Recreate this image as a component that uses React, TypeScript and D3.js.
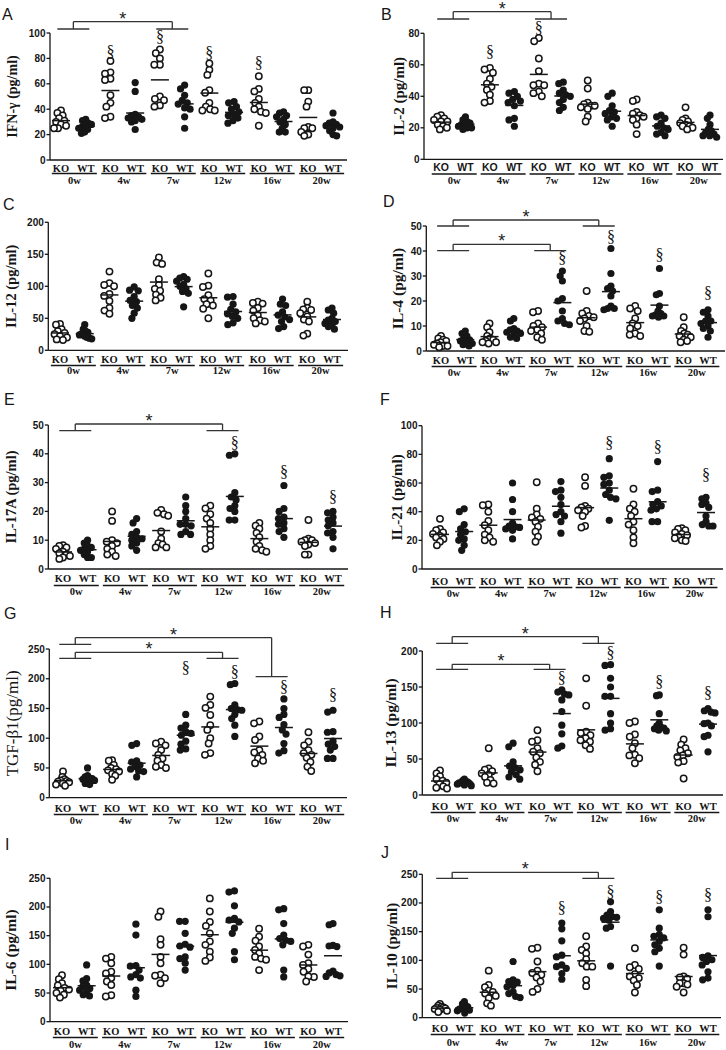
import React from 'react';
import * as d3 from 'd3';

const weeks = ['0w', '4w', '7w', '12w', '16w', '20w'];
const groups = ['KO', 'WT'];

const ifngKO = [[39,37,35,33,31,30,28,27,25,25],[78,69,68,64,63,51,45,42,34,33],[87,84,80,75,75,50,48,47,43,42],[76,71,67,55,53,45,42,40,39,39],[66,56,54,48,45,42,40,38,37,27],[55,55,46,42,26,25,22,20,19,25]];
const ifngWT = [[32,31,29,28,27,26,25,24,22,21],[61,54,36,35,34,33,32,31,30,24],[59,56,51,47,45,44,41,40,34,25],[46,45,42,40,38,36,35,33,31,29],[38,37,35,34,32,30,28,25,22,22],[37,30,29,28,27,26,25,23,20,19]];
const il2KO = [[28,27,26,25,24,24,22,21,20,19],[58,57,55,51,48,46,44,41,37,36],[77,75,64,56,48,47,47,43,42,40],[50,45,36,35,34,34,33,32,27,24],[38,37,30,29,28,27,26,25,22,16],[33,26,25,24,23,22,21,21,20,19]];
const il2WT = [[27,25,24,23,22,22,21,20,20,19],[43,42,40,38,37,36,34,26,25,21],[49,48,44,42,41,40,38,36,33,31],[42,40,34,31,30,29,27,26,25,21],[28,27,26,23,21,20,19,17,16,15],[28,26,22,19,18,17,16,15,14,15]];
const il12KO = [[41,40,33,30,27,25,22,20,17,16],[123,105,102,100,88,85,77,66,62,57],[145,137,135,111,102,96,93,87,82,78],[120,101,99,86,80,78,72,70,65,50],[76,74,73,66,62,55,50,47,45,42],[76,66,64,63,58,53,48,45,26,23]];
const il12WT = [[40,33,30,28,26,24,22,20,19,18],[99,94,93,84,78,76,70,66,58,50],[115,113,111,108,103,100,96,92,89,68],[84,83,72,64,60,57,53,50,43,40],[80,72,70,60,55,52,48,45,37,34],[66,63,58,50,47,45,42,40,37,33]];
const il4KO = [[6,5,4.5,4,3.5,3,2.5,2,2,1.5],[11,9.5,7.5,6,5,4.5,4,3.5,3.5,3],[16,15.5,11,10,9.5,8.5,8,7,5.5,4.5],[24,16,15,14,13.5,13,12,10,8,7.7],[18,17,16,13,11,10,9,7,6.5,6],[13.5,9.5,8,7,6.5,6,5.5,4.5,4,3.5]];
const il4WT = [[8,7,6,5,4.5,4,3.5,3,2.5,2],[13,12,9,8.5,8,7.5,7,6.5,5.5,5],[32,30,28,21,20,16,13,12,11,10.5],[41,31,26,25,24,22,18,17,17,16.5],[33,23,22.5,18,16,15,14.5,14,14,13.5],[16.5,15.5,14,12,12,11,10,9,8,5.5]];
const il17KO = [[8.3,8,7.5,7,6,5.5,5,4.5,4,3.5],[20,16.7,10,9.5,9,8,7,6,5,4.5],[20.5,19.5,19,18.5,13,10.5,9,8.5,7.5,7.5],[22,21,19,17.5,16,14,12,10,8,7],[16,15,14,12.5,11,9.5,8,7,6.5,6],[17,10.5,10,10,9.5,9,8.5,8,5,5]];
const il17WT = [[10,9,8,7.5,7,6.5,6,5,4,4],[17.5,16,13,12,11,10.5,10,9,8,6.5],[25,22,20,17.5,15.5,15.5,15,13,12,12],[40,39.5,26.5,25,24,22,21,20,17,17],[29,21,20,18,17.5,16,15.5,14,13,11],[20,19.5,18,17,16,15,13,12.5,11,7]];
const il21KO = [[35,28,27,25.5,24.5,23,22,21,19,16.5],[45,44.5,40,33.5,30.5,27,24,22,20,19],[60.5,42,38,36,35,33,29.5,26,22.5,19],[64,58,44,43,42,41,40,37,30,29],[56,45,42,40,37,33,31,27,22,18],[28.5,28,27,25.5,24.5,23.5,22.5,21.5,20,19.5]];
const il21WT = [[42,40,31,28,26,24,21,20,16.5,13],[60,48.5,40,32,29,30,29.5,28,27,21],[61,55,54,50,45,40,38,37,33,25],[77,65,64,60,59,55,52,50,49,34],[75,55,54,47,45,44,42,41,33,33],[50,49,46,45,43,37,33,31,30,30]];
const tgfKO = [[44,35,31,29,28,27,26,24,22,20],[63,62,55,50,48,46,44,40,37,30],[94,91,88,80,72,66,62,55,52,50],[170,156,151,139,122,114,100,91,75,72],[128,125,103,97,80,76,72,66,62,58],[110,94,88,80,75,72,67,60,52,45]];
const tgfWT = [[50,37,35,33,32,31,29,27,24,22],[91,88,62,60,55,52,48,45,44,35],[140,122,117,111,108,105,95,90,82,80],[192,190,156,150,148,147,140,133,122,103],[166,150,140,135,123,114,107,91,79,75],[147,144,111,110,95,90,86,80,66,66]];
const il13KO = [[34,30,26,22,20,17,15,12,10,9],[65,37,35,33,30,28,25,21,17,16],[90,76,74,65,60,58,52,46,42,33],[162,124,88,86,83,79,76,74,69,64],[102,100,84,81,72,65,56,55,51,44],[77,70,65,62,58,55,53,47,45,23]];
const il13WT = [[22,20,19,18,17,17,16,15,14,13],[72,67,46,40,38,35,32,28,25,22],[146,143,140,139,132,116,97,85,68,65],[181,180,162,150,137,137,113,100,92,90],[139,138,113,100,96,94,93,92,90,89],[120,117,115,114,100,99,96,83,81,60]];
const il6KO = [[81,74,67,63,59,56,54,50,47,42],[113,110,102,87,84,76,70,64,46,44],[192,183,144,134,113,102,82,80,76,67],[215,192,174,167,154,140,134,122,112,106],[162,148,141,131,125,119,113,110,108,90],[134,131,117,102,99,92,87,78,79,70]];
const il6WT = [[99,75,71,64,61,58,55,52,47,45],[170,151,98,97,90,82,78,76,55,44],[175,175,154,135,132,130,113,110,102,90],[228,226,202,180,177,174,163,154,122,108],[197,195,171,151,145,142,140,134,90,78],[171,169,133,132,131,88,85,82,80,79]];
const il10KO = [[24,21,19,18,17,16,15,14,12,10],[82,57,53,47,45,42,38,34,25,21],[122,120,98,82,78,75,70,63,50,45],[142,124,118,112,102,95,89,89,66,55],[121,92,88,85,76,72,69,65,57,44],[122,110,72,70,68,60,58,60,54,44]];
const il10WT = [[28,24,21,19,17,16,15,13,12,8],[98,66,63,62,56,54,45,42,37,35],[165,155,134,109,106,92,89,86,77,67],[202,185,179,176,175,173,170,159,156,90],[188,156,145,142,139,133,127,121,115,90],[188,176,108,105,101,98,92,80,69,66]];

const SANS = 'Liberation Sans, Arial, sans-serif';
const SERIF = 'Liberation Serif, Times New Roman, serif';
const INK = '#161616';

type Bracket = { a: string; b: string; top: number; lowA: number; lowB: number };
type Sig = { w: string; g: string; y: number };
type PanelCfg = {
  letter: string; lx: number; ly: number;
  title: string; tx: number; tSize: number; tWeight: string;
  ko: number[][]; wt: number[][];
  max: number; step: number;
  ax: number; y0: number; yTop: number; xEnd: number; c0: number; c1: number;
  koBase: number; ul: number; wk: number; catFont: string;
  brackets: Bracket[]; sig: Sig[];
};

const panels: PanelCfg[] = [
  { letter: 'A', lx: 2, ly: 20, title: 'IFN-γ (pg/ml)', tx: 17, tSize: 14, tWeight: 'bold', ko: ifngKO, wt: ifngWT, max: 100, step: 20,
    ax: 50, y0: 160, yTop: 33, xEnd: 347, c0: 61, c1: 333, koBase: 172, ul: 173.5, wk: 183.5, catFont: SERIF,
    brackets: [{ a: '0w', b: '7w', top: 21.7, lowA: 29, lowB: 29 }],
    sig: [{ w: '4w', g: 'KO', y: 52 }, { w: '7w', g: 'KO', y: 37 }, { w: '12w', g: 'KO', y: 53 }, { w: '16w', g: 'KO', y: 63 }] },
  { letter: 'B', lx: 381, ly: 20, title: 'IL-2 (pg/ml)', tx: 404, tSize: 15, tWeight: 'bold', ko: il2KO, wt: il2WT, max: 80, step: 20,
    ax: 424, y0: 159.3, yTop: 33.3, xEnd: 723, c0: 441, c1: 710, koBase: 171, ul: 174, wk: 183.5, catFont: SANS,
    brackets: [{ a: '0w', b: '7w', top: 11.7, lowA: 19, lowB: 19 }],
    sig: [{ w: '4w', g: 'KO', y: 52 }, { w: '7w', g: 'KO', y: 28 }] },
  { letter: 'C', lx: 3, ly: 210, title: 'IL-12 (pg/ml)', tx: 16, tSize: 14.5, tWeight: 'bold', ko: il12KO, wt: il12WT, max: 200, step: 50,
    ax: 48.3, y0: 350.3, yTop: 222.3, xEnd: 348, c0: 60, c1: 332, koBase: 363, ul: 365.5, wk: 373.5, catFont: SERIF,
    brackets: [], sig: [] },
  { letter: 'D', lx: 383, ly: 207, title: 'IL-4 (pg/ml)', tx: 403, tSize: 15.5, tWeight: 'bold', ko: il4KO, wt: il4WT, max: 50, step: 10,
    ax: 426.3, y0: 351, yTop: 226, xEnd: 725, c0: 441, c1: 708, koBase: 364, ul: 366.5, wk: 375.5, catFont: SERIF,
    brackets: [{ a: '0w', b: '12w', top: 220, lowA: 226, lowB: 226 }, { a: '0w', b: '7w', top: 244.3, lowA: 250.7, lowB: 250.7 }],
    sig: [{ w: '7w', g: 'WT', y: 258 }, { w: '12w', g: 'WT', y: 237 }, { w: '16w', g: 'WT', y: 255 }, { w: '20w', g: 'WT', y: 293 }] },
  { letter: 'E', lx: 4, ly: 405, title: 'IL-17A (pg/ml)', tx: 16, tSize: 14.5, tWeight: 'bold', ko: il17KO, wt: il17WT, max: 50, step: 10,
    ax: 48.3, y0: 569, yTop: 425, xEnd: 348, c0: 63, c1: 333, koBase: 582, ul: 585.5, wk: 595, catFont: SERIF,
    brackets: [{ a: '0w', b: '12w', top: 424, lowA: 430.7, lowB: 430.7 }],
    sig: [{ w: '12w', g: 'WT', y: 443 }, { w: '16w', g: 'WT', y: 472 }, { w: '20w', g: 'WT', y: 497 }] },
  { letter: 'F', lx: 380, ly: 405, title: 'IL-21 (pg/ml)', tx: 402, tSize: 15, tWeight: 'bold', ko: il21KO, wt: il21WT, max: 100, step: 20,
    ax: 422, y0: 569, yTop: 425.7, xEnd: 723, c0: 440, c1: 706, koBase: 585, ul: 587.5, wk: 597, catFont: SERIF,
    brackets: [], sig: [{ w: '12w', g: 'WT', y: 443 }, { w: '16w', g: 'WT', y: 447 }, { w: '20w', g: 'WT', y: 475 }] },
  { letter: 'G', lx: 4, ly: 619, title: 'TGF-β1(pg/ml)', tx: 18, tSize: 17, tWeight: 'normal', ko: tgfKO, wt: tgfWT, max: 250, step: 50,
    ax: 49.3, y0: 797.7, yTop: 649, xEnd: 347, c0: 63, c1: 333, koBase: 812, ul: 814.5, wk: 823.5, catFont: SERIF,
    brackets: [{ a: '0w', b: '16w', top: 637.7, lowA: 644.3, lowB: 676.7 }, { a: '0w', b: '12w', top: 652.3, lowA: 658.3, lowB: 658.3 }],
    sig: [{ w: '7w', g: 'WT', y: 668 }, { w: '12w', g: 'WT', y: 672 }, { w: '16w', g: 'WT', y: 687 }, { w: '20w', g: 'WT', y: 695 }] },
  { letter: 'H', lx: 380, ly: 618, title: 'IL-13 (pg/ml)', tx: 396, tSize: 15.5, tWeight: 'bold', ko: il13KO, wt: il13WT, max: 200, step: 50,
    ax: 422.3, y0: 795, yTop: 651, xEnd: 723, c0: 440, c1: 708, koBase: 810, ul: 812.5, wk: 822, catFont: SERIF,
    brackets: [{ a: '0w', b: '12w', top: 636.7, lowA: 643.3, lowB: 643.3 }, { a: '0w', b: '7w', top: 664.3, lowA: 669.3, lowB: 669.3 }],
    sig: [{ w: '7w', g: 'WT', y: 678 }, { w: '12w', g: 'WT', y: 653 }, { w: '16w', g: 'WT', y: 682 }, { w: '20w', g: 'WT', y: 693 }] },
  { letter: 'I', lx: 5, ly: 850, title: 'IL-6 (pg/ml)', tx: 16, tSize: 15.5, tWeight: 'bold', ko: il6KO, wt: il6WT, max: 250, step: 50,
    ax: 50, y0: 1021.7, yTop: 878.3, xEnd: 348, c0: 62, c1: 333, koBase: 1035, ul: 1037.5, wk: 1048, catFont: SERIF,
    brackets: [], sig: [] },
  { letter: 'J', lx: 381, ly: 858, title: 'IL-10 (pg/ml)', tx: 396.5, tSize: 15, tWeight: 'bold', ko: il10KO, wt: il10WT, max: 250, step: 50,
    ax: 422.3, y0: 1017.7, yTop: 874.3, xEnd: 721, c0: 440, c1: 708, koBase: 1032, ul: 1034.5, wk: 1045.5, catFont: SERIF,
    brackets: [{ a: '0w', b: '12w', top: 872.3, lowA: 878.3, lowB: 878.3 }],
    sig: [{ w: '7w', g: 'WT', y: 908 }, { w: '12w', g: 'WT', y: 892 }, { w: '16w', g: 'WT', y: 897 }, { w: '20w', g: 'WT', y: 895 }] },
];

const R = 3.2;
const DMIN = 5.6;
const SPREAD = 7;

function swarm(ys: number[]): number[] {
  const idx = d3.range(ys.length).sort((a, b) => ys[a] - ys[b]);
  const xs = new Array(ys.length).fill(0);
  const placed: number[] = [];
  for (const i of idx) {
    const y = ys[i];
    const cands = [0];
    for (const j of placed) {
      const dy = Math.abs(ys[j] - y);
      if (dy < DMIN) {
        const dx = Math.sqrt(DMIN * DMIN - dy * dy);
        cands.push(xs[j] + dx, xs[j] - dx);
      }
    }
    cands.sort((a, b) => Math.abs(a) - Math.abs(b) || a - b);
    for (const c of cands) {
      if (placed.every((j) => (xs[j] - c) ** 2 + (ys[j] - y) ** 2 >= DMIN * DMIN - 1e-6)) {
        xs[i] = c;
        break;
      }
    }
    placed.push(i);
  }
  const mx = d3.max(xs, (v) => Math.abs(v)) || 0;
  const k = mx > SPREAD ? SPREAD / mx : 1;
  return xs.map((v) => v * k);
}

function Panel({ p }: { p: PanelCfg }) {
  const y = d3.scaleLinear().domain([0, p.max]).range([p.y0, p.yTop]);
  const keys = weeks.flatMap((w) => groups.map((g) => `${w}|${g}`));
  const x = d3.scalePoint<string>().domain(keys).range([p.c0, p.c1]);
  const ticks = d3.range(0, p.max + p.step / 2, p.step);
  const wc = (w: string) => ((x(`${w}|KO`) as number) + (x(`${w}|WT`) as number)) / 2 + 1;
  const cy = (p.y0 + p.yTop) / 2;

  return (
    <g>
      <text x={p.lx} y={p.ly} fontFamily={SANS} fontSize={16} fill={INK}>{p.letter}</text>
      <text transform={`translate(${p.tx},${cy}) rotate(-90)`} textAnchor="middle" fontFamily={SERIF}
        fontSize={p.tSize} fontWeight={p.tWeight} fill={INK}>{p.title}</text>
      <line x1={p.ax} x2={p.ax} y1={p.y0} y2={p.yTop} stroke={INK} strokeWidth={1.3} />
      <line x1={p.ax} x2={p.xEnd} y1={p.y0} y2={p.y0} stroke={INK} strokeWidth={1.3} />
      {ticks.map((t) => (
        <g key={t}>
          <line x1={p.ax - 3.5} x2={p.ax} y1={y(t)} y2={y(t)} stroke={INK} strokeWidth={1.3} />
          <text x={p.ax - 4.5} y={y(t) + 3.5} textAnchor="end" fontFamily={SANS} fontSize={10}
            fontWeight="bold" fill={INK}>{t}</text>
        </g>
      ))}
      {weeks.map((w, wi) => groups.map((g) => {
        const vals = (g === 'KO' ? p.ko : p.wt)[wi];
        const cx = x(`${w}|${g}`) as number;
        const ys = vals.map((v) => y(v));
        const xs = swarm(ys);
        const m = d3.mean(vals) as number;
        return (
          <g key={`${w}${g}`}>
            {vals.map((v, i) => (
              g === 'KO'
                ? <circle key={i} cx={cx + xs[i]} cy={ys[i]} r={R} fill="#fff" stroke={INK} strokeWidth={1.5} />
                : <circle key={i} cx={cx + xs[i]} cy={ys[i]} r={R + 0.4} fill={INK} />
            ))}
            <line x1={cx - 9} x2={cx + 9} y1={y(m)} y2={y(m)} stroke={INK} strokeWidth={1.5} />
            <text x={cx} y={p.koBase} textAnchor="middle" fontFamily={p.catFont} fontSize={10.5}
              fontWeight="bold" fill={INK}>{g}</text>
          </g>
        );
      }))}
      {weeks.map((w) => (
        <g key={`u${w}`}>
          <line x1={wc(w) - 22.5} x2={wc(w) + 22.5} y1={p.ul} y2={p.ul} stroke={INK} strokeWidth={1.6} />
          <text x={wc(w)} y={p.wk} textAnchor="middle" fontFamily={SERIF} fontSize={10.5}
            fontWeight="bold" fill={INK}>{w}</text>
        </g>
      ))}
      {p.brackets.map((b, i) => {
        const xa = wc(b.a) - 1;
        const xb = wc(b.b) - 1;
        return (
          <g key={`b${i}`} stroke="#333" strokeWidth={1.3} fill="none">
            <line x1={xa} x2={xb} y1={b.top} y2={b.top} />
            <line x1={xa} x2={xa} y1={b.top} y2={b.lowA} />
            <line x1={xb} x2={xb} y1={b.top} y2={b.lowB} />
            <line x1={xa - 16} x2={xa + 16} y1={b.lowA} y2={b.lowA} />
            <line x1={xb - 16} x2={xb + 16} y1={b.lowB} y2={b.lowB} />
            <text x={(xa + xb) / 2} y={b.top + 3} textAnchor="middle" fontFamily={SANS} fontSize={18}
              fill="#222" stroke="none">*</text>
          </g>
        );
      })}
      {p.sig.map((s, i) => (
        <text key={`s${i}`} x={x(`${s.w}|${s.g}`) as number} y={s.y + 4.5} textAnchor="middle"
          fontFamily={SERIF} fontSize={16} fill="#111">§</text>
      ))}
    </g>
  );
}

export default function App() {
  return (
    <svg width={726} height={1050} viewBox="0 0 726 1050"
      style={{ position: 'absolute', left: 0, top: 0, background: '#fff' }}>
      <rect width={726} height={1050} fill="#fff" />
      {panels.map((p) => <Panel key={p.letter} p={p} />)}
    </svg>
  );
}
